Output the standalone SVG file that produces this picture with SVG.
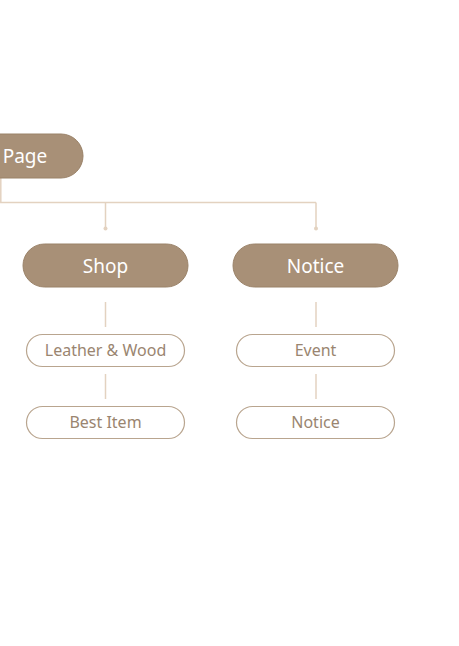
<svg xmlns="http://www.w3.org/2000/svg" width="459" height="646" viewBox="0 0 459 646">
<style>
.main rect{fill:#a89077;stroke:#9a8268;stroke-width:1}
.main text{fill:#fff;font-family:"Noto Sans",sans-serif;font-size:19px;text-anchor:middle}
.sub rect{fill:#fff;stroke:#b9a58f;stroke-width:1.2}
.sub text{fill:#9a8570;font-family:"Noto Sans",sans-serif;font-size:16px;text-anchor:middle}
.conn line,.conn path{stroke:#e3d2c0;stroke-width:1.5;fill:none}
.conn circle{fill:#e3d2c0}
</style>
<rect width="459" height="646" fill="#fff"/>
<g class="conn" id="connectors">
<path d="M0.8,178 V202.5 H316 M105.5,202.5 V228 M316,202.5 V228"/>
<circle cx="105.5" cy="228.5" r="2"/>
<circle cx="316" cy="228.5" r="2"/>
<line x1="105.5" y1="302" x2="105.5" y2="327"/>
<line x1="105.5" y1="374" x2="105.5" y2="399"/>
<line x1="316" y1="302" x2="316" y2="327"/>
<line x1="316" y1="374" x2="316" y2="399"/>
</g>
<g class="main" id="page"><rect x="-40" y="134" width="123" height="44" rx="22"/><text x="25" y="162.5">Page</text></g>
<g class="main" id="shop"><rect x="23" y="244" width="165" height="43" rx="21.5"/><text x="105.5" y="272.5">Shop</text></g>
<g class="main" id="notice"><rect x="233" y="244" width="165" height="43" rx="21.5"/><text x="315.5" y="272.5">Notice</text></g>
<g class="sub" id="leather"><rect x="26.5" y="334.5" width="158" height="32" rx="16"/><text x="105.5" y="356">Leather &amp; Wood</text></g>
<g class="sub" id="best"><rect x="26.5" y="406.5" width="158" height="32" rx="16"/><text x="105.5" y="428">Best Item</text></g>
<g class="sub" id="event"><rect x="236.5" y="334.5" width="158" height="32" rx="16"/><text x="315.5" y="356">Event</text></g>
<g class="sub" id="notice2"><rect x="236.5" y="406.5" width="158" height="32" rx="16"/><text x="315.5" y="428">Notice</text></g>
</svg>
